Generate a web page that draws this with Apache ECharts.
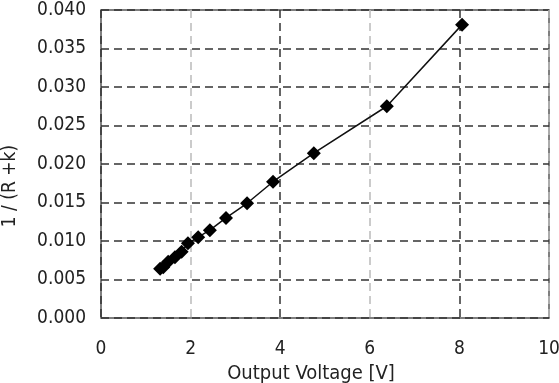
<!DOCTYPE html>
<html>
<head>
<meta charset="utf-8">
<script src="https://cdn.jsdelivr.net/npm/echarts@6/dist/echarts.min.js"></script>
<style>
  html, body { margin: 0; padding: 0; background: #fff; }
  #chart { width: 559px; height: 383px; }
</style>
</head>
<body>
<div id="chart"></div>
<script>
// values
const voltage = [1.32, 1.39, 1.50, 1.65, 1.80, 1.94, 2.17, 2.43, 2.79, 3.26, 3.84, 4.75, 6.38, 8.06];
const invR = [0.0064, 0.0066, 0.0073, 0.0079, 0.0086, 0.0097, 0.0105, 0.0114, 0.0130, 0.0149, 0.0177, 0.0214, 0.0275, 0.0381];

const labelFont = { fontFamily: 'DejaVu Sans Condensed', fontSize: 19, color: '#222' };

const chart = echarts.init(document.getElementById('chart'), null, { renderer: 'canvas' });

chart.setOption({
    animation: false,
    grid: {
        left: 101, right: 10, top: 10, bottom: 65,
        outerBoundsMode: 'none', containLabel: false,
        show: true, borderColor: '#555', borderWidth: 1.5
    },
    xAxis: {
        type: 'value', min: 0, max: 10, interval: 2,
        name: 'Output Voltage [V]', nameLocation: 'middle', nameGap: 46,
        nameTextStyle: Object.assign({}, labelFont, { fontSize: 20, padding: [0, 28, 0, 0] }),
        axisLine: { show: false }, axisTick: { show: false },
        axisLabel: Object.assign({ margin: 22 }, labelFont),
        splitLine: { lineStyle: { color: ['#333', '#bbb'], type: [8, 5], width: 1.5 } }
    },
    yAxis: {
        type: 'value', min: 0, max: 0.04, interval: 0.005,
        name: '1 / (R +k)', nameLocation: 'middle', nameGap: 81,
        nameTextStyle: Object.assign({ padding: [0, 44, 0, 0] }, labelFont),
        axisLine: { show: false }, axisTick: { show: false },
        axisLabel: Object.assign({ margin: 15, formatter: v => v.toFixed(3) }, labelFont),
        splitLine: { lineStyle: { color: '#333', type: [8, 5], width: 1.5 } }
    },
    series: [{
        type: 'line',
        data: voltage.map((v, i) => [v, invR[i]]),
        symbol: 'diamond', symbolSize: 14,
        itemStyle: { color: '#000' },
        lineStyle: { color: '#111', width: 1.5 }
    }]
});
</script>
</body>
</html>
